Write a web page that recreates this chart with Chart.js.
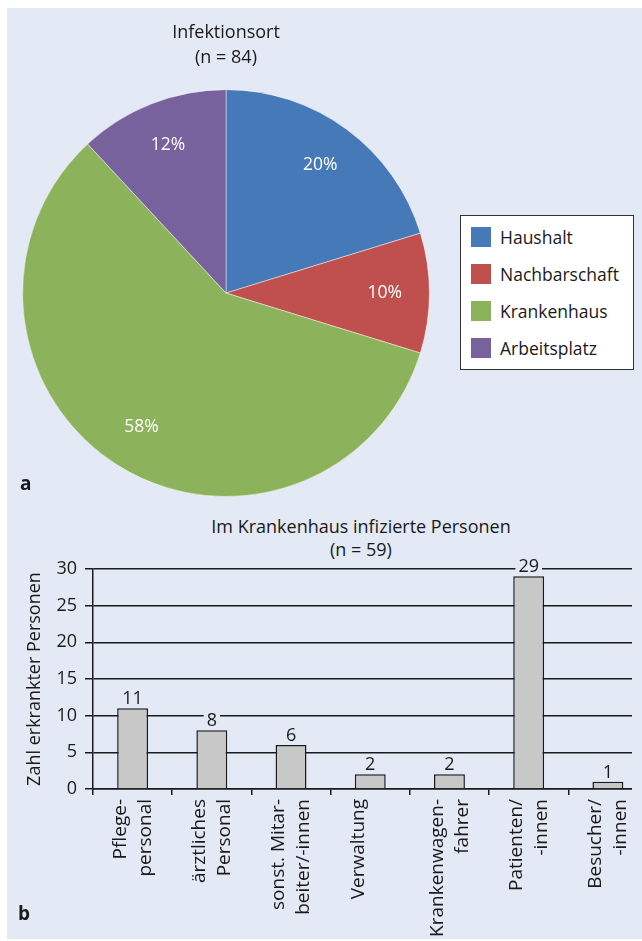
<!DOCTYPE html>
<html lang="de">
<head>
<meta charset="utf-8">
<title>Infektionsort</title>
<script src="https://cdn.jsdelivr.net/npm/chart.js@4/dist/chart.umd.min.js"></script>
<style>
  html, body { margin: 0; padding: 0; background: #fff; }
  body { width: 642px; height: 941px; position: relative; overflow: hidden; font-family: "Open Sans", sans-serif; color: #1a1a1a; }
  .panel { position: absolute; left: 7px; top: 8px; right: 0; bottom: 2px; background: #e3e9f5; }
  #pieWrap { position: absolute; left: 7px; top: 8px; width: 438px; height: 500px; }
  #barWrap { position: absolute; left: 0; top: 540px; width: 632px; height: 400px; overflow: hidden; }
  .legend { position: absolute; left: 460px; top: 215px; width: 172px; height: 153px; border: 1.5px solid #333; background: #fff; }
  .legend .item { position: absolute; left: 10px; height: 20px; font-size: 17.5px; line-height: 20px; white-space: nowrap; }
  .legend .sw { display: inline-block; width: 20px; height: 20px; vertical-align: top; margin-right: 9px; }
  .tag { position: absolute; font-weight: bold; font-size: 19px; }
  .barTitle { position: absolute; left: 111px; top: 515px; width: 500px; text-align: center; font-size: 18px; line-height: 23px; }
</style>
</head>
<body>
<div class="panel"></div>
<div id="pieWrap"><canvas id="pieChart" width="438" height="500"></canvas></div>
<div class="legend" id="legend"></div>
<div class="tag" style="left:20px; top:470px;">a</div>
<div class="barTitle">Im Krankenhaus infizierte Personen<br>(n = 59)</div>
<div id="barWrap"><canvas id="barChart" width="662" height="400"></canvas></div>
<div class="tag" style="left:18px; top:900px;">b</div>

<script>
// Daten Teil a (n = 84)
const pieLabels = ['Haushalt', 'Nachbarschaft', 'Krankenhaus', 'Arbeitsplatz'];
const pieCounts = [17, 8, 49, 10];
const pieColors = ['#4679b7', '#c0504d', '#8cb35c', '#78629e'];

// Daten Teil b (n = 59)
const barCategories = [
  ['Pflege-', 'personal'],
  ['ärztliches', 'Personal'],
  ['sonst. Mitar-', 'beiter/-innen'],
  'Verwaltung',
  ['Krankenwagen-', 'fahrer'],
  ['Patienten/', '-innen'],
  ['Besucher/', '-innen']
];
const barValues = [11, 8, 6, 2, 2, 29, 1];
const yMax = 30;
const yStep = 5;

const panelColor = '#e3e9f5';
const textColor = '#1a1a1a';

Chart.defaults.font.family = '"Open Sans", sans-serif';
Chart.defaults.font.size = 18;
Chart.defaults.color = textColor;

document.addEventListener('DOMContentLoaded', () => {

  // Legende (HTML, aus den Arrays gebaut)
  const legend = document.getElementById('legend');
  pieLabels.forEach((name, i) => {
    const row = document.createElement('div');
    row.className = 'item';
    row.style.top = (11 + i * 37) + 'px';
    row.innerHTML = '<span class="sw" style="background:' + pieColors[i] + '"></span>' + name;
    legend.appendChild(row);
  });

  const total = pieCounts.reduce((a, b) => a + b, 0);

  // Prozentwerte in den Segmenten
  const pctLabels = {
    id: 'pctLabels',
    afterDatasetsDraw(chart) {
      const ctx = chart.ctx;
      const meta = chart.getDatasetMeta(0);
      ctx.save();
      ctx.fillStyle = '#fff';
      ctx.font = '17.5px "Open Sans", sans-serif';
      ctx.textAlign = 'center';
      ctx.textBaseline = 'middle';
      meta.data.forEach((arc, i) => {
        const p = arc.getProps(['x', 'y', 'startAngle', 'endAngle', 'outerRadius'], true);
        const mid = (p.startAngle + p.endAngle) / 2;
        const r = p.outerRadius * 0.78;
        const pct = Math.round(pieCounts[i] / total * 100) + '%';
        ctx.fillText(pct, p.x + Math.cos(mid) * r, p.y + Math.sin(mid) * r);
      });
      ctx.restore();
    }
  };

  new Chart(document.getElementById('pieChart'), {
    type: 'pie',
    data: {
      labels: pieLabels,
      datasets: [{
        data: pieCounts,
        backgroundColor: pieColors,
        borderColor: 'rgba(255,255,255,0.45)',
        borderWidth: 1
      }]
    },
    options: {
      responsive: false,
      animation: false,
      layout: { padding: { left: 15, right: 15, top: 0, bottom: 11 } },
      plugins: {
        legend: { display: false },
        tooltip: { enabled: false },
        title: {
          display: true,
          text: ['Infektionsort', '(n = 84)'],
          color: textColor,
          font: { size: 18, weight: 'normal', lineHeight: 1.38 },
          padding: { top: 12.5, bottom: 19 }
        }
      }
    },
    plugins: [pctLabels]
  });

  // Zahlen über den Balken, mit Hintergrund (unterbricht die Gitterlinie)
  const valueLabels = {
    id: 'valueLabels',
    afterDatasetsDraw(chart) {
      const ctx = chart.ctx;
      const meta = chart.getDatasetMeta(0);
      ctx.save();
      ctx.font = '18px "Open Sans", sans-serif';
      ctx.textAlign = 'center';
      ctx.textBaseline = 'alphabetic';
      meta.data.forEach((bar, i) => {
        const txt = String(barValues[i]);
        const w = ctx.measureText(txt).width;
        const base = bar.y - 4;
        ctx.fillStyle = panelColor;
        ctx.fillRect(bar.x - w / 2 - 3, base - 15, w + 6, 18);
        ctx.fillStyle = textColor;
        ctx.fillText(txt, bar.x, base);
      });
      ctx.restore();
    }
  };

  new Chart(document.getElementById('barChart'), {
    type: 'bar',
    data: {
      labels: barCategories,
      datasets: [{
        data: barValues,
        backgroundColor: '#c8c8c8',
        borderColor: '#1a1a1a',
        borderWidth: 1.5,
        barPercentage: 0.39,
        categoryPercentage: 1
      }]
    },
    options: {
      responsive: false,
      animation: false,
      layout: { padding: { left: 0, right: 10, top: 29, bottom: 0 } },
      plugins: {
        legend: { display: false },
        tooltip: { enabled: false }
      },
      scales: {
        x: {
          afterFit: (s) => { s.height = 151; },
          border: { display: true, color: '#1a1a1a', width: 1.5 },
          grid: { display: true, drawOnChartArea: false, drawTicks: true, tickLength: 6, color: '#1a1a1a', lineWidth: 1.5, offset: true },
          ticks: {
            color: textColor,
            font: { size: 19, lineHeight: 1.3 },
            minRotation: 90,
            maxRotation: 90,
            autoSkip: false,
            padding: 4,
            labelOffset: -12
          }
        },
        y: {
          min: 0,
          max: yMax,
          afterFit: (s) => { s.width = 93; },
          border: { display: true, color: '#1a1a1a', width: 1.5 },
          grid: { color: '#1a1a1a', lineWidth: 1.5, tickLength: 8 },
          ticks: { stepSize: yStep, color: textColor, font: { size: 18 }, padding: 8 },
          title: {
            display: true,
            text: 'Zahl erkrankter Personen',
            color: textColor,
            font: { size: 18 },
            padding: { top: 24, bottom: 0 }
          }
        }
      }
    },
    plugins: [valueLabels]
  });

});
</script>
</body>
</html>
